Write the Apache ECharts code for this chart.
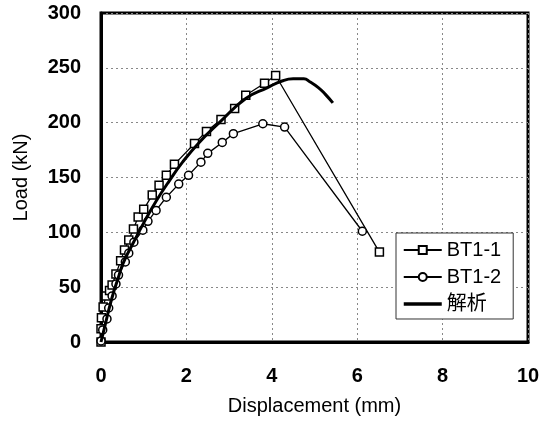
<!DOCTYPE html>
<html>
<head>
<meta charset="utf-8">
<script src="https://cdn.jsdelivr.net/npm/echarts@6/dist/echarts.min.js"></script>
<style>
html,body{margin:0;padding:0;background:#fff;}
#chart{width:549px;height:425px;}
</style>
</head>
<body>
<div id="chart"></div>
<script>
// Data: [displacement (mm), load (kN)]
const bt1_1 = [
  [0,0],[0,12],[0.01,22],[0.05,32],[0.12,42],[0.2,47],[0.26,52],[0.35,62],
  [0.46,74],[0.55,84],[0.65,93],[0.76,103],[0.87,114],[1.0,121],[1.2,134],
  [1.36,143],[1.53,152],[1.72,162],[2.19,181],[2.47,192],[2.81,203],[3.13,213],
  [3.39,225],[3.83,236],[4.09,243],[6.52,82]
];
const bt1_2 = [
  [0,1],[0.04,11],[0.14,21],[0.18,31],[0.26,42],[0.35,53],[0.41,61],[0.57,73],
  [0.65,81],[0.77,91],[0.98,102],[1.1,110],[1.29,120],[1.53,132],[1.82,144],
  [2.05,152],[2.34,164],[2.5,172],[2.84,182],[3.1,190],[3.79,199],[4.3,196],
  [6.12,101]
];
const analysis = [
  [0,0],[0.1,16],[0.2,32],[0.3,46],[0.4,58],[0.52,72],[0.75,90],[1.02,110],
  [1.3,129],[1.6,147],[1.91,164],[2.3,182],[2.77,200],[3.39,222],[3.9,232],
  [4.24,238],[4.5,240],[4.75,240],[4.9,237],[5.09,232],[5.25,226],[5.43,218]
];
const seriesNames = ['BT1-1','BT1-2','解析'];
const xTitle = 'Displacement (mm)';
const yTitle = 'Load (kN)';

const chart = echarts.init(document.getElementById('chart'), null, {renderer:'canvas'});
const font = '"Liberation Sans", Arial, "Noto Sans CJK JP", sans-serif';
const split = {show:true, lineStyle:{color:'#888', type:[2,3], width:1}};
chart.setOption({
  animation:false,
  backgroundColor:'#fff',
  textStyle:{fontFamily:font, color:'#000'},
  grid:{left:101, right:21, top:13, bottom:83, show:true, borderColor:'#000', borderWidth:3, backgroundColor:'transparent'},
  xAxis:{
    type:'value', min:0, max:10, interval:2,
    name:xTitle, nameLocation:'middle', nameGap:54,
    nameTextStyle:{fontSize:20, color:'#000', fontFamily:font},
    axisLine:{show:true, lineStyle:{color:'#000', width:3}},
    axisTick:{show:false},
    axisLabel:{fontSize:20, fontWeight:'bold', color:'#000', margin:24, fontFamily:font},
    splitLine:split
  },
  yAxis:{
    type:'value', min:0, max:300, interval:50,
    name:yTitle, nameLocation:'middle', nameGap:70, nameRotate:90,
    nameTextStyle:{fontSize:20, color:'#000', fontFamily:font},
    axisLine:{show:true, lineStyle:{color:'#000', width:3}},
    axisTick:{show:false},
    axisLabel:{fontSize:20, fontWeight:'bold', color:'#000', margin:20, fontFamily:font},
    splitLine:split
  },
  legend:{
    orient:'vertical', left:396, top:233,
    backgroundColor:'#fff', borderColor:'#333', borderWidth:1,
    padding:[7,12,5,6], itemGap:7, itemWidth:38, itemHeight:10,
    textStyle:{fontSize:20, color:'#000', fontFamily:font},
    data:[seriesNames[0], seriesNames[1],
          {name:seriesNames[2], itemStyle:{opacity:0}, lineStyle:{width:3.5, color:'#000'}}]
  },
  series:[
    {name:seriesNames[0], type:'line', data:bt1_1, symbol:'rect', symbolSize:8,
     lineStyle:{color:'#000', width:1.3}, itemStyle:{color:'#fff', borderColor:'#000', borderWidth:1.5}, z:3},
    {name:seriesNames[1], type:'line', data:bt1_2, symbol:'circle', symbolSize:8,
     lineStyle:{color:'#000', width:1.3}, itemStyle:{color:'#fff', borderColor:'#000', borderWidth:1.5}, z:3},
    {name:seriesNames[2], type:'line', data:analysis, symbol:'none', smooth:true,
     lineStyle:{color:'#000', width:3}, itemStyle:{color:'#000'}, z:4}
  ]
});
</script>
</body>
</html>
